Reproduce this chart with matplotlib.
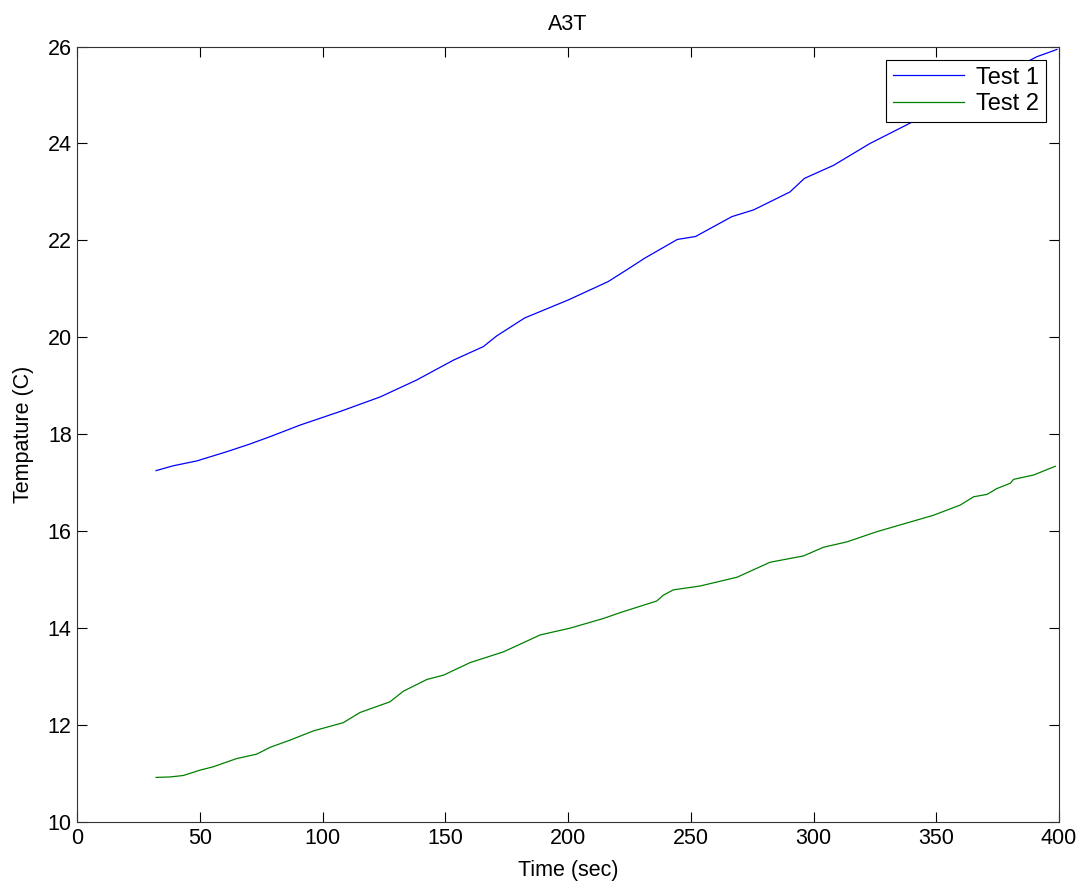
import numpy as np
import matplotlib.pyplot as plt

plt.rcParams['font.family'] = ['Liberation Sans', 'DejaVu Sans']

# Test 1 (blue) - time in sec, temperature in C
t1_time = [32.1, 39.1, 48.7, 60.9, 70.4, 78.5, 90.8, 107.1, 123.4, 138.3,
           153.3, 165.5, 170.9, 182.3, 200.0, 216.3, 223.8, 231.1, 244.5,
           251.9, 266.7, 275.6, 290.4, 296.3, 308.2, 323.0, 337.8, 350.0,
           365.0, 380.0, 391.0, 399.2]
t1_temp = [17.25, 17.35, 17.45, 17.64, 17.80, 17.95, 18.19, 18.47, 18.77,
           19.12, 19.53, 19.81, 20.03, 20.40, 20.77, 21.15, 21.39, 21.63,
           22.02, 22.08, 22.49, 22.63, 23.00, 23.28, 23.55, 24.00, 24.38,
           24.70, 25.10, 25.50, 25.79, 25.94]

# Test 2 (green)
t2_time = [32.1, 37.8, 43.2, 50.0, 55.4, 65.0, 73.1, 78.5, 86.7, 96.2,
           108.4, 115.2, 127.4, 132.9, 142.4, 149.2, 160.1, 173.6, 181.8,
           188.6, 200.8, 214.4, 221.2, 236.1, 238.8, 242.9, 253.8, 268.8,
           282.3, 295.9, 304.1, 313.6, 325.8, 335.3, 348.9, 359.8, 365.2,
           370.7, 374.7, 380.2, 381.5, 389.7, 398.5]
t2_temp = [10.92, 10.93, 10.96, 11.07, 11.14, 11.31, 11.40, 11.54, 11.69,
           11.88, 12.05, 12.26, 12.48, 12.70, 12.94, 13.03, 13.29, 13.51,
           13.70, 13.86, 14.00, 14.20, 14.32, 14.56, 14.68, 14.79, 14.87,
           15.05, 15.36, 15.49, 15.67, 15.78, 15.99, 16.13, 16.33, 16.54,
           16.71, 16.76, 16.88, 16.99, 17.07, 17.16, 17.34]

fig = plt.figure(figsize=(10.87, 8.88), dpi=100)
ax = fig.add_axes([0.0711, 0.0743, 0.9031, 0.8733])

ax.plot(t1_time, t1_temp, color=(0, 0, 1), lw=0.9, label='Test 1')
ax.plot(t2_time, t2_temp, color=(0, 0.5, 0), lw=0.9, label='Test 2')

ax.set_xlim(0, 400)
ax.set_ylim(10, 26)
ax.set_xticks(np.arange(0, 401, 50))
ax.set_yticks(np.arange(10, 27, 2))
ax.tick_params(direction='in', top=True, right=True, length=7, width=0.8,
               labelsize=15.5, pad=4)
for sp in ax.spines.values():
    sp.set_linewidth(0.8)
    sp.set_color('#333333')

ax.set_xlabel('Time (sec)', fontsize=15.5, labelpad=8)
ax.set_ylabel('Tempature (C)', fontsize=15.5, labelpad=10)
ax.set_title('A3T', fontsize=15.5, pad=12)

leg = ax.legend(loc='upper right', fontsize=17, fancybox=False,
                edgecolor='black', framealpha=1, borderaxespad=0.55,
                handlelength=3.0, borderpad=0.3, labelspacing=0.2,
                handletextpad=0.5)
leg.get_frame().set_linewidth(0.8)

fig.savefig('out.png', dpi=100)
